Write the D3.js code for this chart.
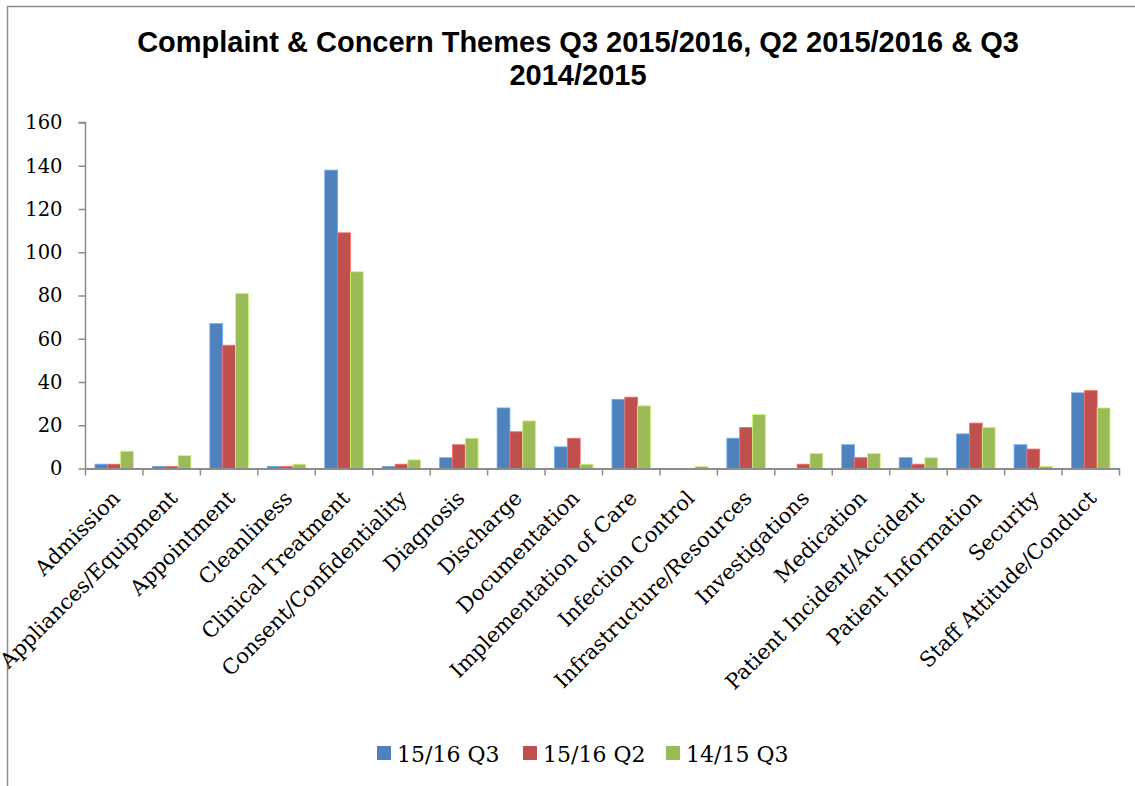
<!DOCTYPE html>
<html><head><meta charset="utf-8">
<script src="https://cdn.jsdelivr.net/npm/d3@7"></script>
<style>body{margin:0;background:#fff}</style>
</head><body>
<svg id="c" width="1135" height="786"></svg>
<script>
const categories = ["Admission","Appliances/Equipment","Appointment","Cleanliness","Clinical Treatment","Consent/Confidentiality","Diagnosis","Discharge","Documentation","Implementation of Care","Infection Control","Infrastructure/Resources","Investigations","Medication","Patient Incident/Accident","Patient Information","Security","Staff Attitude/Conduct"];
const seriesNames = ["15/16 Q3","15/16 Q2","14/15 Q3"];
const q3_1516 = [2,1,67,1,138,1,5,28,10,32,0,14,0,11,5,16,11,35];
const q2_1516 = [2,1,57,1,109,2,11,17,14,33,0,19,2,5,2,21,9,36];
const q3_1415 = [8,6,81,2,91,4,14,22,2,29,1,25,7,7,5,19,1,28];
const yTicks = [0,20,40,60,80,100,120,140,160];
const colors = ["#4f81bd","#c0504d","#9bbb59"];
const titleLines = ["Complaint & Concern Themes Q3 2015/2016, Q2 2015/2016 & Q3","2014/2015"];

const series = [q3_1516,q2_1516,q3_1415];
const svg = d3.select("#c");
const serif = "'DejaVu Serif', serif";

// frame
svg.append("line").attr("x1",7.5).attr("x2",7.5).attr("y1",6.5).attr("y2",786).attr("stroke","#8c8c8c").attr("stroke-width",1.5);
svg.append("line").attr("x1",7).attr("x2",1135).attr("y1",6.5).attr("y2",6.5).attr("stroke","#8c8c8c").attr("stroke-width",1.5);

// title
svg.append("g").selectAll("text").data(titleLines).join("text")
  .attr("x",578).attr("y",(d,i)=>52+i*33)
  .attr("text-anchor","middle")
  .attr("font-family","'Liberation Sans', Arial, sans-serif")
  .attr("font-weight","bold").attr("font-size",29).attr("fill","#000")
  .text(d=>d);

const pLeft = 85.5, pRight = 1119.5, pTop = 122.5, pBottom = 468.5;
const x = d3.scaleBand().domain(categories).range([pLeft,pRight]).paddingInner(0.33).paddingOuter(0.165);
const xc = d3.scaleBand().domain(categories).range([pLeft,pRight]);
const xs = d3.scaleBand().domain(seriesNames).range([0,x.bandwidth()]);
const y = d3.scaleLinear().domain([0,160]).range([pBottom,pTop]);

// bars
series.forEach((s,si)=>{
  svg.append("g").selectAll("rect").data(s).join("rect")
    .attr("x",(d,i)=>x(categories[i])+xs(seriesNames[si]))
    .attr("y",d=>y(d))
    .attr("width",xs.bandwidth())
    .attr("height",d=>Math.max(0,y(0)-y(d)))
    .attr("fill",colors[si])
    .attr("stroke", d3.color(colors[si]).brighter(0.8))
    .attr("stroke-width",0.8);
});

// y axis
const ya = svg.append("g").attr("transform",`translate(${pLeft},0)`)
  .call(d3.axisLeft(y).tickValues(yTicks).tickSize(7).tickPadding(16).tickFormat(d3.format("d")));
ya.select(".domain").attr("stroke","#8c8c8c").attr("stroke-width",1.5).attr("d",`M-7,${pTop}H0V${pBottom}`);
ya.selectAll(".tick line").attr("stroke","#8c8c8c").attr("stroke-width",1.5);
ya.selectAll(".tick text").attr("font-family",serif).attr("font-size",19.5).attr("fill","#000");

// x axis
const xa = svg.append("g").attr("transform",`translate(0,${pBottom})`)
  .call(d3.axisBottom(xc).tickSize(0).tickFormat(""));
xa.select(".domain").attr("stroke","#8c8c8c").attr("stroke-width",2);
xa.selectAll(".tick").remove();
const boundaries = categories.map(c=>xc(c)).concat([pRight]);
xa.selectAll("line.sep").data(boundaries).join("line").attr("class","sep")
  .attr("x1",d=>d).attr("x2",d=>d).attr("y1",0).attr("y2",7)
  .attr("stroke","#8c8c8c").attr("stroke-width",1.5);
xa.selectAll("text.lab").data(categories).join("text").attr("class","lab")
  .attr("transform",d=>`translate(${xc(d)+xc.bandwidth()/2+7},${31}) rotate(-45)`)
  .attr("text-anchor","end")
  .attr("font-family",serif).attr("font-size",21).attr("fill","#000")
  .text(d=>d);

// legend
const lx = [377,523,666];
const lg = svg.append("g").selectAll("g").data(seriesNames).join("g")
  .attr("transform",(d,i)=>`translate(${lx[i]},753)`);
lg.append("rect").attr("x",0).attr("y",-7).attr("width",14).attr("height",14).attr("fill",(d,i)=>colors[i]);
lg.append("text").attr("x",20).attr("y",9).attr("font-family",serif).attr("font-size",22).attr("fill","#000").text(d=>d);
</script>
</body></html>
